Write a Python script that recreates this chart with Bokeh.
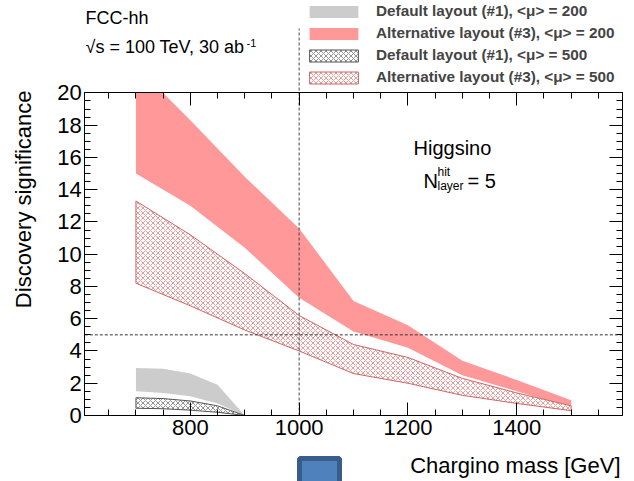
from bokeh.plotting import figure
from bokeh.models import (Range1d, LinearAxis, SingleIntervalTicker, Label, Legend,
                          LegendItem, CustomJSTickFormatter)
from bokeh.embed import file_html
from bokeh.resources import INLINE

# Chargino masses [GeV] and discovery-significance bands
mass_alt = [700, 800, 900, 1000, 1100, 1200, 1300, 1400, 1500]
alt200_hi = [21.7, 18.3, 14.8, 11.6, 7.1, 5.6, 3.4, 2.2, 0.95]
alt200_lo = [15.0, 13.0, 10.4, 7.3, 5.2, 4.2, 2.5, 1.5, 0.5]
alt500_hi = [13.3, 11.2, 8.8, 6.2, 4.4, 3.6, 2.3, 1.4, 0.6]
alt500_lo = [8.2, 6.8, 5.3, 4.0, 2.6, 2.0, 1.25, 0.75, 0.3]

mass_def = [700, 750, 800, 850, 900]
def200_hi = [2.95, 2.9, 2.6, 1.9, 0.0]
def200_lo = [1.5, 1.4, 1.2, 0.75, 0.0]
def500_hi = [1.1, 1.05, 0.9, 0.6, 0.0]
def500_lo = [0.45, 0.42, 0.33, 0.2, 0.0]

legend_labels = [
    "Default layout (#1), <\u03bc> = 200",
    "Alternative layout (#3), <\u03bc> = 200",
    "Default layout (#1), <\u03bc> = 500",
    "Alternative layout (#3), <\u03bc> = 500",
]

# Axis frame and reference lines
x_frame = (606, 1594)
y_frame = (0, 20)
x_major, x_minor_n = 200, 4
y_major, y_minor_n = 2, 4
five_sigma = 5
ref_mass = 1000

FONT = "Liberation Sans"
W, H = 634, 481
# canvas mapping (pixels per unit) so the frame sits where the axes are drawn
SX, SY = 0.544, 16.13
X_LO = x_frame[0] - 84.3 / SX
Y_HI = 415 / SY


def at(px, py):
    """canvas pixel -> data coordinates"""
    return X_LO + px / SX, Y_HI - py / SY


p = figure(width=W, height=H, output_backend="svg", toolbar_location=None,
           x_axis_location=None, y_axis_location=None, min_border=0,
           x_range=Range1d(X_LO, X_LO + W / SX), y_range=Range1d(Y_HI - H / SY, Y_HI))
p.outline_line_color = None
p.xgrid.visible = False
p.ygrid.visible = False


def band(x, hi, lo, ymax=y_frame[1]):
    """closed band polygon, clipped at the top of the frame"""
    xs = list(x) + list(x)[::-1]
    ys = list(hi) + list(lo)[::-1]
    cx, cy = [], []
    n = len(xs)
    for i in range(n):
        x1, y1 = xs[i - 1], ys[i - 1]
        x2, y2 = xs[i], ys[i]
        in1, in2 = y1 <= ymax, y2 <= ymax
        if in1 != in2:
            t = (ymax - y1) / (y2 - y1)
            cx.append(x1 + t * (x2 - x1))
            cy.append(ymax)
        if in2:
            cx.append(x2)
            cy.append(y2)
    return cx, cy


bx, by = band(mass_alt, alt200_hi, alt200_lo)
r_alt200 = p.patch(bx, by, fill_color="#ff9999", line_color=None)
bx, by = band(mass_def, def200_hi, def200_lo)
r_def200 = p.patch(bx, by, fill_color="#cccccc", line_color=None)
bx, by = band(mass_def, def500_hi, def500_lo)
r_def500 = p.patch(bx, by, fill_color="white", line_color="#555555", line_width=1,
                   hatch_pattern="diagonal_cross", hatch_color="#777777",
                   hatch_scale=5, hatch_weight=0.8)
bx, by = band(mass_alt, alt500_hi, alt500_lo)
r_alt500 = p.patch(bx, by, fill_color="white", line_color="#cc6666", line_width=1,
                   hatch_pattern="diagonal_cross", hatch_color="#e08585",
                   hatch_scale=5, hatch_weight=0.8)

# 5 sigma line and reference mass line
p.line(list(x_frame), [five_sigma, five_sigma], line_color="#333333", line_dash="3 2", line_width=1)
p.line([ref_mass, ref_mass], [y_frame[0], at(0, 28)[1]], line_color="#444444",
       line_dash="3 2", line_width=1)

# stray badge below the axis
badge_x = (at(299, 0)[0], at(339, 0)[0])
badge_y = (at(0, 458)[1], at(0, 490)[1])
p.quad(left=badge_x[0], right=badge_x[1], top=badge_y[0], bottom=badge_y[1],
       fill_color="#4f81bd", line_color="#385d8a", line_width=5)


def make_axis(kind, loc, bounds, ticker, labels=True):
    ax = kind(fixed_location=loc, bounds=bounds, ticker=ticker)
    ax.axis_line_color = "black"
    ax.major_tick_line_color = "black"
    ax.minor_tick_line_color = "black"
    ax.major_tick_in, ax.major_tick_out = 13, 0
    ax.minor_tick_in, ax.minor_tick_out = 6, 0
    ax.major_label_text_font = FONT
    ax.major_label_text_font_size = "22px"
    ax.major_label_text_color = "black"
    if not labels:
        ax.formatter = CustomJSTickFormatter(code="return ''")
    return ax


xt = SingleIntervalTicker(interval=x_major, num_minor_ticks=x_minor_n)
yt = SingleIntervalTicker(interval=y_major, num_minor_ticks=y_minor_n)

bottom = make_axis(LinearAxis, y_frame[0], x_frame, xt)
bottom.major_label_standoff = 4
left = make_axis(LinearAxis, x_frame[0], y_frame, yt)
left.major_label_standoff = 3
top = make_axis(LinearAxis, y_frame[1], x_frame, xt, labels=False)
right = make_axis(LinearAxis, x_frame[1], y_frame, yt, labels=False)
p.add_layout(bottom, "below")
p.add_layout(left, "left")
p.add_layout(top, "above")
p.add_layout(right, "right")


def label(text, px, py, size, align="left", angle=0.0, style="normal", baseline="middle"):
    x, y = at(px, py)
    p.add_layout(Label(x=x, y=y, text=text, text_font=FONT, text_font_size=f"{size}px",
                       text_align=align, text_baseline=baseline, angle=angle,
                       text_font_style=style, text_color="black"))


label("FCC-hh", 85, 17, 18)
label("\u221as = 100 TeV, 30 ab", 85, 46, 18)
label("-1", 246, 42, 11)
label("Higgsino", 413, 147, 20)
label("N", 423, 180, 20)
label("hit", 437, 171, 12)
label("layer", 437, 185, 12)
label("= 5", 467, 180, 20)
label("Chargino mass [GeV]", 620, 465, 22, align="right")
label("Discovery significance", 23, 90, 22, align="right", angle=1.5708)

# legend block: bottom-left corner given from the canvas bottom
legend = Legend(items=[LegendItem(label=legend_labels[0], renderers=[r_def200]),
                       LegendItem(label=legend_labels[1], renderers=[r_alt200]),
                       LegendItem(label=legend_labels[2], renderers=[r_def500]),
                       LegendItem(label=legend_labels[3], renderers=[r_alt500])],
                location=(303, H - 86), orientation="vertical",
                glyph_width=61, glyph_height=15, label_height=15,
                label_text_font=FONT, label_text_font_style="bold",
                label_text_font_size="15.3px", label_standoff=12, spacing=4,
                padding=0, margin=0, border_line_color=None, background_fill_alpha=0)
p.add_layout(legend, "center")

open("out.html", "w").write(file_html(p, INLINE))
